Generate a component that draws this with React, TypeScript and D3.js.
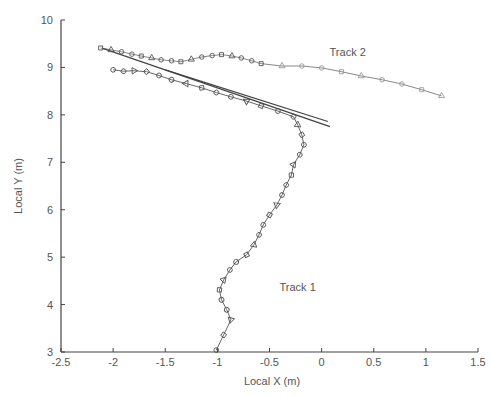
import React from "react";
import * as d3 from "d3";

// Track 1: climbs from the bottom, bends near x = -0.2 and heads up-left
const track1X = [-1.01, -0.94, -0.87, -0.91, -0.96, -0.98, -0.94, -0.88, -0.82, -0.72, -0.65, -0.6, -0.56, -0.5, -0.43, -0.38, -0.34, -0.29, -0.27, -0.21, -0.17, -0.19, -0.23, -0.27, -0.42, -0.58, -0.72, -0.87, -1.01, -1.15, -1.3, -1.44, -1.56, -1.68, -1.8, -1.9, -2.0];
const track1Y = [3.04, 3.36, 3.68, 3.89, 4.1, 4.31, 4.52, 4.73, 4.9, 5.05, 5.26, 5.47, 5.68, 5.89, 6.1, 6.31, 6.52, 6.73, 6.95, 7.16, 7.37, 7.58, 7.79, 7.96, 8.08, 8.19, 8.29, 8.38, 8.47, 8.57, 8.66, 8.74, 8.83, 8.91, 8.93, 8.92, 8.95];

// Track 2: starts upper-left and runs to the right, drifting down
const track2X = [-2.12, -2.02, -1.92, -1.82, -1.73, -1.63, -1.54, -1.44, -1.35, -1.25, -1.15, -1.05, -0.96, -0.86, -0.77, -0.67, -0.58, -0.38, -0.19, 0.0, 0.19, 0.38, 0.58, 0.77, 0.96, 1.15];
const track2Y = [9.41, 9.37, 9.33, 9.28, 9.24, 9.2, 9.16, 9.14, 9.12, 9.17, 9.22, 9.25, 9.27, 9.24, 9.2, 9.14, 9.08, 9.03, 9.03, 8.99, 8.91, 8.82, 8.74, 8.65, 8.53, 8.4];

// Straight fitted segments along the upper-left diagonal
const fitAX = [-2.1, 0.08];
const fitAY = [9.4, 7.75];
const fitBX = [-1.5, 0.06];
const fitBY = [8.95, 7.86];

const xTicks = [-2.5, -2, -1.5, -1, -0.5, 0, 0.5, 1, 1.5];
const xTickLabels = ["-2.5", "-2", "-1.5", "-1", "-0.5", "0", "0.5", "1", "1.5"];
const yTicks = [3, 4, 5, 6, 7, 8, 9, 10];
const yTickLabels = ["3", "4", "5", "6", "7", "8", "9", "10"];

const W = 491;
const H = 396;
const left = 61;
const right = 478;
const top = 20;
const bottom = 352;

export default function App() {
  const x = d3.scaleLinear().domain([-2.5, 1.5]).range([left, right]);
  const y = d3.scaleLinear().domain([3, 10]).range([bottom, top]);
  const line = d3
    .line<[number, number]>()
    .x((d) => x(d[0]))
    .y((d) => y(d[1]))
    .curve(d3.curveLinear);

  const t1 = track1X.map((v, i) => [v, track1Y[i]] as [number, number]);
  const t2 = track2X.map((v, i) => [v, track2Y[i]] as [number, number]);
  const fa = fitAX.map((v, i) => [v, fitAY[i]] as [number, number]);
  const fb = fitBX.map((v, i) => [v, fitBY[i]] as [number, number]);

  const shapes = [d3.symbolCircle, d3.symbolSquare, d3.symbolTriangle, d3.symbolCircle];
  const sym = (i: number, size: number) => d3.symbol().type(shapes[i % shapes.length]).size(size)() || "";

  const font = "'Liberation Sans', Arial, sans-serif";
  const ink = "#555";

  return (
    <svg width={W} height={H} style={{ position: "absolute", left: 0, top: 0, background: "#fff" }}>
      <rect width={W} height={H} fill="#fff" />
      {/* tracks */}
      <path d={line(t1) || ""} fill="none" stroke="#666" strokeWidth={1} />
      <path d={line(t2) || ""} fill="none" stroke="#888" strokeWidth={1} />
      <path d={line(fa) || ""} fill="none" stroke="#444" strokeWidth={1.3} />
      <path d={line(fb) || ""} fill="none" stroke="#444" strokeWidth={1.3} />
      {t1.map((d, i) => (
        <path key={"a" + i} d={sym(i, 18)} transform={`translate(${x(d[0])},${y(d[1])}) rotate(${(i * 37) % 90})`} fill="none" stroke="#555" strokeWidth={0.9} />
      ))}
      {t2.map((d, i) => (
        <path key={"b" + i} d={sym(i + 1, 16)} transform={`translate(${x(d[0])},${y(d[1])})`} fill="none" stroke={i < 17 ? "#555" : "#999"} strokeWidth={0.9} />
      ))}
      {/* axes */}
      <line x1={left} x2={right} y1={bottom} y2={bottom} stroke="#444" strokeWidth={1.2} />
      <line x1={left} x2={left} y1={bottom} y2={top} stroke="#444" strokeWidth={1.2} />
      {xTicks.map((t, i) => (
        <g key={"xt" + i}>
          <line x1={x(t)} x2={x(t)} y1={bottom} y2={bottom - 4} stroke="#444" />
          <text x={x(t)} y={bottom + 14} textAnchor="middle" fontFamily={font} fontSize={11} fill={ink}>
            {xTickLabels[i]}
          </text>
        </g>
      ))}
      {yTicks.map((t, i) => (
        <g key={"yt" + i}>
          <line x1={left} x2={left + 4} y1={y(t)} y2={y(t)} stroke="#444" />
          <text x={left - 8} y={y(t) + 4} textAnchor="end" fontFamily={font} fontSize={11} fill={ink}>
            {yTickLabels[i]}
          </text>
        </g>
      ))}
      <text x={272} y={385} textAnchor="middle" fontFamily={font} fontSize={11} fill={ink}>
        Local X (m)
      </text>
      <text transform={`translate(22,${(top + bottom) / 2}) rotate(-90)`} textAnchor="middle" fontFamily={font} fontSize={11} fill={ink}>
        Local Y (m)
      </text>
      <text x={x(0.25)} y={y(9.25)} textAnchor="middle" fontFamily={font} fontSize={11} fill={ink}>
        Track 2
      </text>
      <text x={x(-0.23)} y={y(4.28)} textAnchor="middle" fontFamily={font} fontSize={11} fill={ink}>
        Track 1
      </text>
    </svg>
  );
}
